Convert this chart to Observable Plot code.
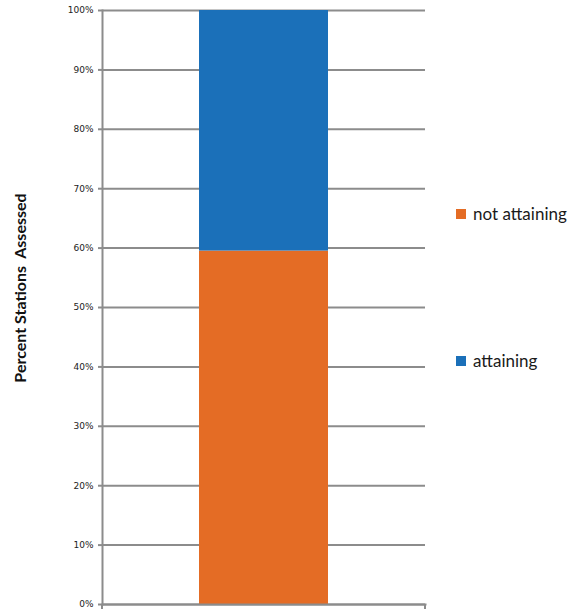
<!DOCTYPE html>
<html>
<head>
<meta charset="utf-8">
<script src="https://cdn.jsdelivr.net/npm/d3@7"></script>
<script src="https://cdn.jsdelivr.net/npm/@observablehq/plot@0.6"></script>
<style>
  html, body { margin: 0; padding: 0; background: #fff; }
  #wrap { position: relative; width: 581px; height: 611px; }
  .leg { position: absolute; display: flex; align-items: center; height: 20px; line-height: 20px; font-family: Lato, "Open Sans", sans-serif; font-size: 17px; color: #1a1a1a; white-space: nowrap; }
  .sw { width: 10px; height: 10px; margin-right: 7px; }
</style>
</head>
<body>
<div id="wrap"></div>
<script>
const series = ["not attaining", "attaining"];
const values = [59.5, 40.5];
const colors = ["#E46C25", "#1B70B9"];
const group = ["All"];
const yTicks = [0, 10, 20, 30, 40, 50, 60, 70, 80, 90, 100];
const yLabel = "Percent Stations  Assessed";

const data = series.map((s, i) => ({group: group[0], series: s, value: values[i]}));
const axisColor = "#8c8c8c";

const chart = Plot.plot({
  width: 581,
  height: 611,
  marginLeft: 102,
  marginRight: 156,
  marginTop: 10,
  marginBottom: 7,
  style: {background: "#fff", overflow: "visible"},
  x: {domain: group, padding: 0.429, axis: null},
  y: {domain: [0, 100], ticks: yTicks},
  color: {domain: series, range: colors},
  marks: [
    Plot.gridY(yTicks, {stroke: axisColor, strokeOpacity: 1, strokeWidth: 2}),
    Plot.barY(data, {x: "group", y: "value", fill: "series"}),
    Plot.axisY(yTicks, {
      tickFormat: d => d + "%", tickSize: 4, tickPadding: 5,
      fontSize: 9, fontFamily: "DejaVu Sans", fill: "#222",
      stroke: axisColor, strokeWidth: 2, label: null
    }),
    Plot.frame({anchor: "left", stroke: axisColor, strokeWidth: 2}),
    Plot.frame({anchor: "bottom", stroke: axisColor, strokeWidth: 2})
  ]
});

const wrap = document.getElementById("wrap");
wrap.appendChild(chart);

// bottom category ticks at band extents
const xr = chart.scale("x").range;
const yr = chart.scale("y").range; // [bottom, top]
const svg = d3.select(chart);
xr.forEach(x => {
  svg.append("line").attr("x1", x).attr("x2", x)
    .attr("y1", yr[0]).attr("y2", yr[0] + 5)
    .attr("stroke", axisColor).attr("stroke-width", 2);
});

// y axis title
svg.append("text")
  .attr("transform", `translate(22,${(yr[0] + yr[1]) / 2 - 19}) rotate(-90)`)
  .attr("text-anchor", "middle")
  .attr("dominant-baseline", "middle")
  .attr("font-family", "Lato, 'Open Sans', sans-serif")
  .attr("font-weight", "bold")
  .attr("font-size", 16)
  .attr("fill", "#111")
  .style("white-space", "pre")
  .attr("xml:space", "preserve")
  .text(yLabel);

// legend
const legTops = [204, 351];
series.forEach((s, i) => {
  const d = document.createElement("div");
  d.className = "leg";
  d.style.left = "456px";
  d.style.top = legTops[i] + "px";
  d.innerHTML = `<span class="sw" style="background:${colors[i]}"></span><span>${s}</span>`;
  wrap.appendChild(d);
});
</script>
</body>
</html>
